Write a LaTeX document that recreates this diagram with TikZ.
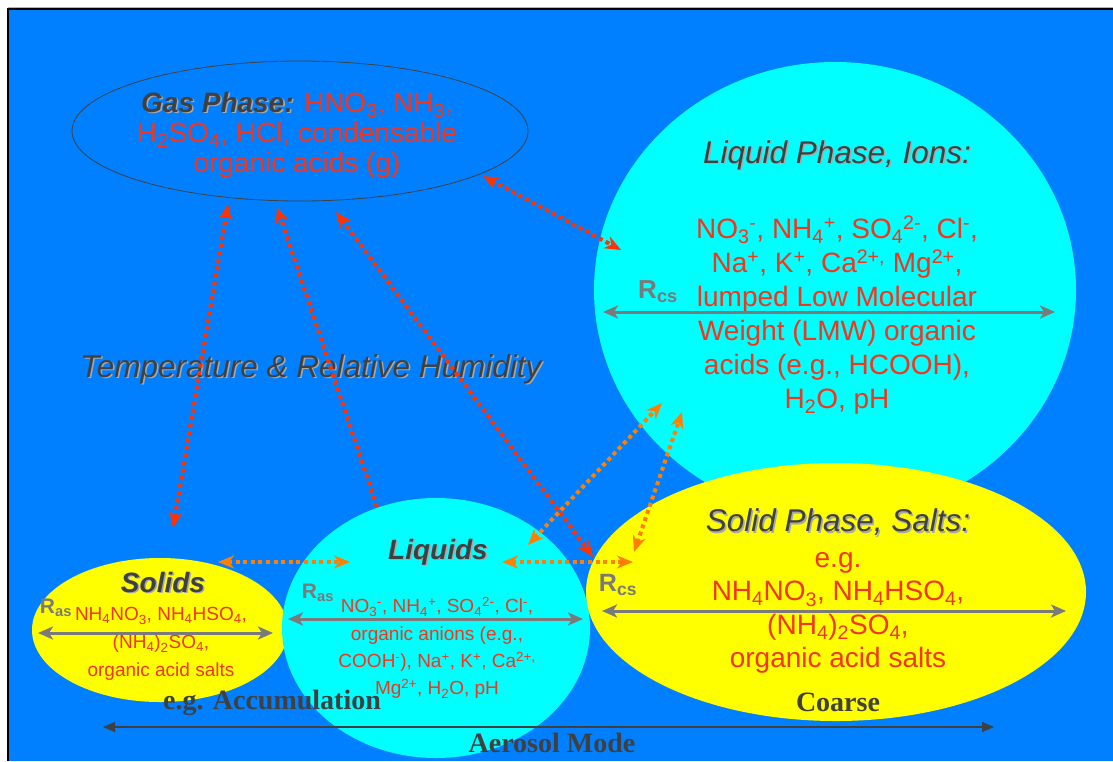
\documentclass[tikz,border=0pt]{standalone}
\usepackage{fontspec}
\setmainfont{Liberation Sans}
\newfontfamily\timesfam{Liberation Serif}
\usetikzlibrary{arrows.meta,shapes.geometric}
\definecolor{bgblue}{HTML}{0080FF}
\definecolor{cyanf}{HTML}{00FFFF}
\definecolor{yel}{HTML}{FFFF00}
\definecolor{txtred}{HTML}{F2361E}
\definecolor{arrred}{HTML}{FF3300}
\definecolor{orng}{HTML}{FF8000}
\definecolor{rgray}{HTML}{7A7A7A}
\definecolor{dgray}{HTML}{404040}
\definecolor{shgray}{HTML}{A8A8A8}
\newcommand\lo[1]{\textsubscript{#1}}
\newcommand\hi[1]{\textsuperscript{#1}}
\newcommand\shd[1]{\makebox[0pt][l]{\kern1.5pt\raisebox{-1.5pt}{\color{shgray}#1}}#1}
\tikzset{
  blob/.style={ellipse, inner sep=0pt, draw=none},
  dotred/.style={draw=arrred, line width=4pt, dash pattern=on 4pt off 3.6pt},
  dotorg/.style={draw=orng, line width=4pt, dash pattern=on 4pt off 3.6pt},
  both/.style={{Stealth[length=16pt,width=13pt,inset=5pt]}-{Stealth[length=16pt,width=13pt,inset=5pt]}},
  rarrow/.style={draw=rgray, line width=3pt, {Stealth[length=15pt,width=13pt,inset=4pt]}-{Stealth[length=15pt,width=13pt,inset=4pt]}},
  redtxt/.style={text=txtred, align=center, inner sep=0pt},
  ttl/.style={text=dgray, inner sep=0pt, font=\fontsize{31.5}{36}\selectfont\itshape},
  bttl/.style={text=dgray, inner sep=0pt, font=\fontsize{28}{32}\selectfont\bfseries\itshape},
  rlab/.style={text=rgray, inner sep=0pt, font=\bfseries},
  serlab/.style={text=dgray, inner sep=0pt, font=\fontsize{28}{32}\selectfont\timesfam\bfseries},
}
\begin{document}
\begin{tikzpicture}[x=1pt,y=-1pt]
\useasboundingbox (0,0) rectangle (1113,761);
\fill[white] (0,0) rectangle (1113,761);
\fill[bgblue] (8,9) rectangle (1113,761);
\draw[gray!60, line width=1pt] (8,7.5) -- (1113,7.5);
\draw[black, line width=1.2pt] (8,761) -- (8,9) -- (1113,9);

% shapes
\node[blob, fill=cyanf, minimum width=482, minimum height=456] (lp) at (835,290) {};
\node[blob, fill=yel, minimum width=256, minimum height=144] (so) at (160,630) {};
\node[blob, fill=cyanf, minimum width=308, minimum height=260] (li) at (436,628) {};
\node[blob, fill=yel, minimum width=500, minimum height=258] (sp) at (836,592) {};
\node[ellipse, draw=dgray, line width=0.8pt, inner sep=0pt, minimum width=456, minimum height=140] (gas) at (300,131) {};

% texts
\node[redtxt, font=\fontsize{28}{30}\selectfont] (gast) at (297,135)
 {{\color{dgray}\bfseries\itshape\shd{Gas Phase:}} HNO\lo{3}, NH\lo{3},\\
  H\lo{2}SO\lo{4}, HCl, condensable\\ organic acids (g)};

\node[ttl] (lpt) at (837,156) {\shd{Liquid Phase, Ions:}};
\node[redtxt, font=\fontsize{28}{34}\selectfont] (lpx) at (837,315)
 {NO\lo{3}\hi{-}, NH\lo{4}\hi{+}, SO\lo{4}\hi{2-}, Cl\hi{-},\\
  Na\hi{+}, K\hi{+}, Ca\hi{2+,} Mg\hi{2+},\\
  lumped Low Molecular\\
  Weight (LMW) organic\\
  acids (e.g., HCOOH),\\
  H\lo{2}O, pH};
\node[rlab, font=\fontsize{26}{30}\selectfont\bfseries] (rcs1) at (658,292) {R\lo{cs}};

\node[ttl] (temp) at (311,370) {\shd{Temperature \& Relative Humidity}};

\node[ttl] (spt) at (838,523) {\shd{Solid Phase, Salts:}};
\node[redtxt, font=\fontsize{28}{33.3}\selectfont] (spx) at (838,613)
 {e.g.\\ NH\lo{4}NO\lo{3}, NH\lo{4}HSO\lo{4},\\ (NH\lo{4})\lo{2}SO\lo{4},\\ organic acid salts};
\node[rlab, font=\fontsize{25}{30}\selectfont\bfseries] (rcs2) at (618,585) {R\lo{cs}};

\node[bttl] (sot) at (163,583) {\shd{Solids}};
\node[redtxt, font=\fontsize{19}{28}\selectfont] (sox) at (161,644)
 {NH\lo{4}NO\lo{3}, NH\lo{4}HSO\lo{4},\\ (NH\lo{4})\lo{2}SO\lo{4},\\ organic acid salts};
\node[rlab, font=\fontsize{21}{24}\selectfont\bfseries] (ras1) at (56,608) {R\lo{as}};

\node[bttl] (lit) at (438,553) {\shd{Liquids}};
\node[redtxt, font=\fontsize{19}{27.3}\selectfont] (lix) at (437,648)
 {NO\lo{3}\hi{-}, NH\lo{4}\hi{+}, SO\lo{4}\hi{2-}, Cl\hi{-},\\
  organic anions (e.g.,\\ COOH\hi{-}), Na\hi{+}, K\hi{+}, Ca\hi{2+,}\\ Mg\hi{2+}, H\lo{2}O, pH};
\node[rlab, font=\fontsize{21}{24}\selectfont\bfseries] (ras2) at (318,593) {R\lo{as}};

\node[serlab] (acc) at (272,703) {e.g. Accumulation};
\node[serlab] (coarse) at (838,702) {Coarse};
\node[serlab] (mode) at (552,743) {Aerosol Mode};

% gray reaction arrows
\coordinate (lpL) at (603,312); \coordinate (lpR) at (1055,312);
\coordinate (spL) at (602,611); \coordinate (spR) at (1066,611);
\coordinate (soL) at (38,633);  \coordinate (soR) at (273,633);
\coordinate (liL) at (288,619); \coordinate (liR) at (583,619);
\draw[rarrow] (lpL) -- (lpR);
\draw[rarrow] (spL) -- (spR);
\draw[rarrow] (soL) -- (soR);
\draw[rarrow] (liL) -- (liR);

% mode arrow
\coordinate (mL) at (103,727); \coordinate (mR) at (994,727);
\draw[draw=dgray, line width=1.3pt, {Triangle[length=12pt,width=10pt]}-{Triangle[length=12pt,width=10pt]}] (mL) -- (mR);

% red dotted connectors
\coordinate (g1) at (228,204); \coordinate (s1) at (173,528);
\coordinate (g2) at (277,207); \coordinate (l2) at (377,507);
\coordinate (g3) at (336,212); \coordinate (p3) at (593,557);
\coordinate (g4) at (483,176); \coordinate (q4) at (621,250);
\draw[dotred, both] (g1) -- (s1);
\draw[dotred, -{Stealth[length=16pt,width=13pt,inset=5pt]}] (l2) -- (g2);
\draw[dotred, both] (g3) -- (p3);
\draw[dotred, both] (g4) -- (q4);

% orange dotted connectors
\coordinate (o5a) at (218,562); \coordinate (o5b) at (350,562);
\coordinate (o6a) at (502,562); \coordinate (o6b) at (633,562);
\coordinate (o7a) at (528,545); \coordinate (o7b) at (662,403);
\coordinate (o8a) at (634,552); \coordinate (o8b) at (682,412);
\draw[dotorg, both] (o5a) -- (o5b);
\draw[dotorg, both] (o6a) -- (o6b);
\draw[dotorg, both] (o7a) -- (o7b);
\draw[dotorg, both] (o8a) -- (o8b);
\end{tikzpicture}
\end{document}
